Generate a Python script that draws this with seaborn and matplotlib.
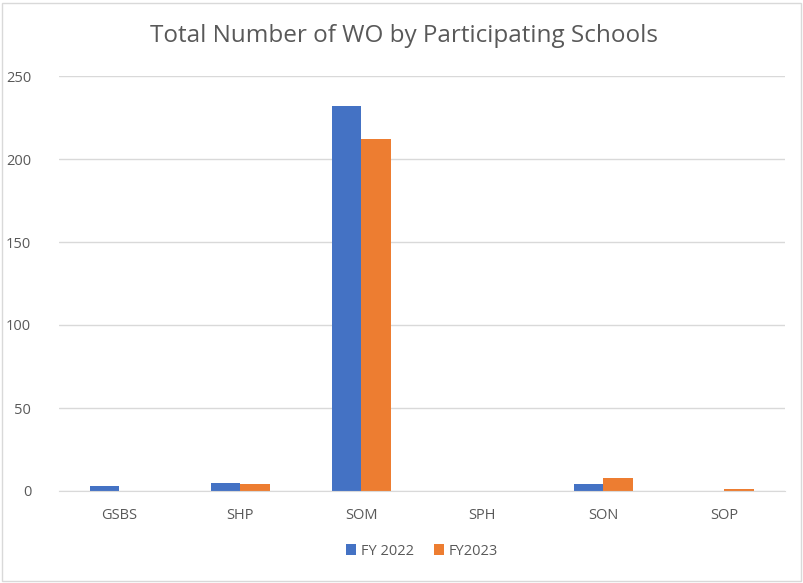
import pandas as pd
import matplotlib.pyplot as plt
import seaborn as sns
from matplotlib.patches import Rectangle

# === Data ===
schools = ["GSBS", "SHP", "SOM", "SPH", "SON", "SOP"]
fy2022 = [3, 5, 232, 0, 4, 0]
fy2023 = [0, 4, 212, 0, 8, 1]
series_names = ["FY 2022", "FY2023"]

df = pd.DataFrame({
    "School": schools * 2,
    "Count": fy2022 + fy2023,
    "Year": [series_names[0]] * len(schools) + [series_names[1]] * len(schools),
})

# === Style ===
sns.set_style("white")
plt.rcParams['font.family'] = ['Open Sans', 'DejaVu Sans']
grey_text = "#595959"
grid_col = "#d9d9d9"

fig = plt.figure(figsize=(8.04, 5.83), dpi=100)
ax = fig.add_axes([59 / 804, 92 / 583, 726 / 804, 415 / 583])

sns.barplot(data=df, x="School", y="Count", hue="Year", order=schools,
            palette=["#4472C4", "#ED7D31"], width=0.48, saturation=1,
            linewidth=0, ax=ax, legend=True)

ax.set_xlim(-0.5, 5.5)
ax.set_ylim(0, 250)
ax.set_yticks(range(0, 251, 50))
ax.yaxis.grid(True, color=grid_col, linewidth=1)
ax.set_axisbelow(True)
for s in ["top", "right", "left"]:
    ax.spines[s].set_visible(False)
ax.spines["bottom"].set_color(grid_col)
ax.tick_params(axis="both", length=0, colors=grey_text, labelsize=10.5)
ax.tick_params(axis="x", pad=12)
ax.tick_params(axis="y", pad=20)
ax.set_xlabel("")
ax.set_ylabel("")

fig.text(0.502, 0.938, "Total Number of WO by Participating Schools",
         ha="center", va="center", fontsize=17.5, color=grey_text)

ax.legend(loc="center", bbox_to_anchor=(0.5, -0.145), ncol=2, frameon=False,
          fontsize=10.5, labelcolor=grey_text, handlelength=0.7, handleheight=0.7,
          handletextpad=0.3, columnspacing=1.4)

# chart border
fig.patches.append(Rectangle((0.002, 0.004), 0.994, 0.99, transform=fig.transFigure,
                             fill=False, edgecolor=grid_col, linewidth=1))

plt.savefig("out.png", dpi=100)
plt.close()
